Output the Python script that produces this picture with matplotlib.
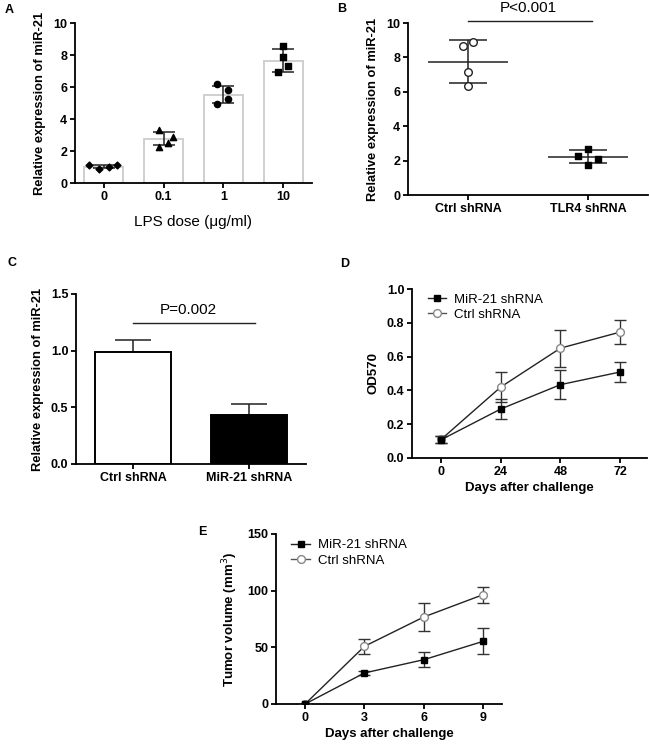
import matplotlib
matplotlib.use("Agg")
import matplotlib.pyplot as plt
from matplotlib.lines import Line2D
import numpy as np

plt.rcParams['font.family'] = ['Liberation Sans', 'DejaVu Sans']
plt.rcParams['axes.linewidth'] = 1.3
plt.rcParams['xtick.major.width'] = 1.3
plt.rcParams['ytick.major.width'] = 1.3
plt.rcParams['xtick.major.size'] = 3.5
plt.rcParams['ytick.major.size'] = 3.5

# ---------------- Data ----------------
# Panel A
a_cats = ['0', '0.1', '1', '10']
a_means = [1.03, 2.78, 5.52, 7.65]
a_sd = [0.12, 0.43, 0.55, 0.70]
a_pts = [[1.11, 0.86, 1.00, 1.15],
         [3.30, 2.26, 2.53, 2.89],
         [6.17, 5.82, 5.23, 4.92],
         [8.58, 7.85, 7.34, 6.92]]
a_offs = [[-0.25, -0.08, 0.08, 0.23],
          [-0.07, -0.07, 0.08, 0.16],
          [-0.10, 0.08, 0.08, -0.10],
          [0.0, 0.0, 0.08, -0.08]]
a_markers = ['D', '^', 'o', 's']
a_sizes = [12, 20, 20, 20]

# Panel B
b_cats = ['Ctrl shRNA', 'TLR4 shRNA']
b_means = [7.75, 2.22]
b_sd = [1.25, 0.37]
b_pts = [[8.64, 8.91, 7.13, 6.31], [2.70, 2.29, 2.08, 1.77]]
b_offs = [[-0.04, 0.04, 0.0, 0.0], [0.0, -0.08, 0.08, 0.0]]

# Panel C
c_cats = ['Ctrl shRNA', 'MiR-21 shRNA']
c_means = [0.985, 0.435]
c_err = [0.105, 0.097]

# Panel D
d_x = [0, 24, 48, 72]
d_mir = [0.108, 0.29, 0.434, 0.509]
d_mir_err = [0.02, 0.06, 0.085, 0.058]
d_ctrl = [0.11, 0.42, 0.65, 0.745]
d_ctrl_err = [0.02, 0.09, 0.11, 0.07]

# Panel E
e_x = [0, 3, 6, 9]
e_mir = [0, 27.4, 39.1, 55.3]
e_mir_err = [0, 2.0, 6.5, 11.5]
e_ctrl = [0, 50.9, 76.8, 96.5]
e_ctrl_err = [0, 6.5, 12.5, 7.0]

W, H = 650, 748
fig = plt.figure(figsize=(6.5, 7.48), dpi=100)

tick_fs = 9
lab_fs = 9.3
sq_ms = 4.6
ci_ms = 5.6

def add_ax(l, r, t, b):
    return fig.add_axes([l / W, (H - b) / H, (r - l) / W, (b - t) / H])

def style(ax):
    ax.spines['top'].set_visible(False)
    ax.spines['right'].set_visible(False)
    ax.tick_params(labelsize=tick_fs, pad=2)
    for lab in ax.get_xticklabels() + ax.get_yticklabels():
        lab.set_fontweight('bold')

def legend_handles():
    return [Line2D([], [], color='#222222', lw=1.0, marker='s', ms=sq_ms, mfc='black', mec='black'),
            Line2D([], [], color='#555555', lw=1.0, marker='o', ms=ci_ms, mfc='white', mec='#888888')]

# ---- A ----
ax = add_ax(75, 312, 23, 183)
xa = np.arange(len(a_cats))
ax.bar(xa, a_means, width=0.66, color='white', edgecolor='#cfcfcf', linewidth=1.4, zorder=1)
ax.errorbar(xa, a_means, yerr=a_sd, fmt='none', ecolor='#222222', elinewidth=1.1,
            capsize=8, capthick=1.1, zorder=3)
for i in range(len(a_cats)):
    ax.scatter(xa[i] + np.array(a_offs[i]), a_pts[i], marker=a_markers[i], s=a_sizes[i],
               color='black', zorder=4)
ax.set_xlim(-0.48, 3.48)
ax.set_ylim(0, 10)
ax.set_yticks([0, 2, 4, 6, 8, 10])
ax.set_xticks(xa)
ax.set_xticklabels(a_cats)
ax.set_ylabel('Relative expression of miR-21', fontsize=lab_fs, fontweight='bold', labelpad=5)
ax.set_xlabel('LPS dose (μg/ml)', fontsize=11, labelpad=9)
style(ax)
fig.text(5 / W, 1 - 10 / H, 'A', fontsize=9, fontweight='bold', va='center')

# ---- B ----
ax = add_ax(408, 648, 23, 195)
xb = np.arange(len(b_cats))
for i in range(len(b_cats)):
    ax.hlines(b_means[i], xb[i] - 0.33, xb[i] + 0.33, color='#222222', lw=1.1, zorder=2)
    ax.errorbar(xb[i], b_means[i], yerr=b_sd[i], fmt='none', ecolor='#222222',
                elinewidth=1.1, capsize=14, capthick=1.1, zorder=2)
ax.scatter(xb[0] + np.array(b_offs[0]), b_pts[0], marker='o', s=30, facecolor='white',
           edgecolor='#222222', linewidth=1.0, zorder=4)
ax.scatter(xb[1] + np.array(b_offs[1]), b_pts[1], marker='s', s=24, color='black', zorder=4)
ax.plot([0, 1.03], [10.1, 10.1], color='#222222', lw=1.0, clip_on=False)
ax.text(0.5, 10.45, 'P<0.001', ha='center', va='bottom', fontsize=11)
ax.set_xlim(-0.5, 1.5)
ax.set_ylim(0, 10)
ax.set_yticks([0, 2, 4, 6, 8, 10])
ax.set_xticks(xb)
ax.set_xticklabels(b_cats)
ax.set_ylabel('Relative expression of miR-21', fontsize=lab_fs, fontweight='bold', labelpad=5)
style(ax)
fig.text(337 / W, 1 - 9 / H, 'B', fontsize=9, fontweight='bold', va='center')

# ---- C ----
ax = add_ax(76, 306, 294, 464)
xc = np.arange(len(c_cats))
ax.bar(xc, c_means, width=0.66, color=['white', 'black'], edgecolor='black', linewidth=1.4, zorder=1)
ax.errorbar(xc, c_means, yerr=[[0, 0], c_err], fmt='none', ecolor='#222222', elinewidth=1.1,
            capsize=13, capthick=1.1, zorder=0)
ax.plot([0, 1.05], [1.244, 1.244], color='#222222', lw=1.0)
ax.text(0.48, 1.30, 'P=0.002', ha='center', va='bottom', fontsize=11)
ax.set_xlim(-0.49, 1.49)
ax.set_ylim(0, 1.5)
ax.set_yticks([0, 0.5, 1.0, 1.5])
ax.set_yticklabels(['0.0', '0.5', '1.0', '1.5'])
ax.set_xticks(xc)
ax.set_xticklabels(c_cats)
ax.set_ylabel('Relative expression of miR-21', fontsize=lab_fs, fontweight='bold', labelpad=5)
style(ax)
fig.text(8 / W, 1 - 263 / H, 'C', fontsize=9, fontweight='bold', va='center')

# ---- D ----
ax = add_ax(412, 647, 289, 458)
ax.errorbar(d_x, d_mir, yerr=d_mir_err, color='#222222', lw=1.0, marker='s', ms=sq_ms,
            mfc='black', mec='black', ecolor='#333333', elinewidth=1.0, capsize=4,
            capthick=1.0, zorder=3)
ax.errorbar(d_x, d_ctrl, yerr=d_ctrl_err, color='#222222', lw=1.0, marker='o', ms=ci_ms,
            mfc='white', mec='#888888', mew=1.0, ecolor='#333333', elinewidth=1.0, capsize=4,
            capthick=1.0, zorder=2)
ax.set_xlim(-11.7, 82.8)
ax.set_ylim(0, 1.0)
ax.set_yticks([0, 0.2, 0.4, 0.6, 0.8, 1.0])
ax.set_yticklabels(['0.0', '0.2', '0.4', '0.6', '0.8', '1.0'])
ax.set_xticks(d_x)
ax.set_ylabel('OD570', fontsize=9.5, fontweight='bold', labelpad=5)
ax.set_xlabel('Days after challenge', fontsize=9.5, fontweight='bold', labelpad=3)
ax.legend(legend_handles(), ['MiR-21 shRNA', 'Ctrl shRNA'], loc='upper left',
          bbox_to_anchor=(0.017, 1.045), frameon=False, fontsize=9.5,
          handlelength=1.4, handletextpad=0.6, labelspacing=0.25)
style(ax)
fig.text(340 / W, 1 - 264 / H, 'D', fontsize=9, fontweight='bold', va='center')

# ---- E ----
ax = add_ax(276, 502, 534, 704)
ax.errorbar(e_x, e_mir, yerr=e_mir_err, color='#222222', lw=1.0, marker='s', ms=sq_ms,
            mfc='black', mec='black', ecolor='#333333', elinewidth=1.0, capsize=4,
            capthick=1.0, zorder=3)
ax.errorbar(e_x, e_ctrl, yerr=e_ctrl_err, color='#222222', lw=1.0, marker='o', ms=ci_ms,
            mfc='white', mec='#888888', mew=1.0, ecolor='#333333', elinewidth=1.0, capsize=4,
            capthick=1.0, zorder=2)
ax.set_xlim(-1.47, 9.95)
ax.set_ylim(0, 150)
ax.set_yticks([0, 50, 100, 150])
ax.set_xticks(e_x)
ax.set_ylabel('Tumor volume (mm$^3$)', fontsize=9.5, fontweight='bold', labelpad=5)
ax.set_xlabel('Days after challenge', fontsize=9.5, fontweight='bold', labelpad=3)
ax.legend(legend_handles(), ['MiR-21 shRNA', 'Ctrl shRNA'], loc='upper left',
          bbox_to_anchor=(0.016, 1.04), frameon=False, fontsize=9.5,
          handlelength=1.4, handletextpad=0.6, labelspacing=0.25)
style(ax)
fig.text(198 / W, 1 - 532 / H, 'E', fontsize=9, fontweight='bold', va='center')

fig.savefig('out.png', dpi=100, facecolor='white')
